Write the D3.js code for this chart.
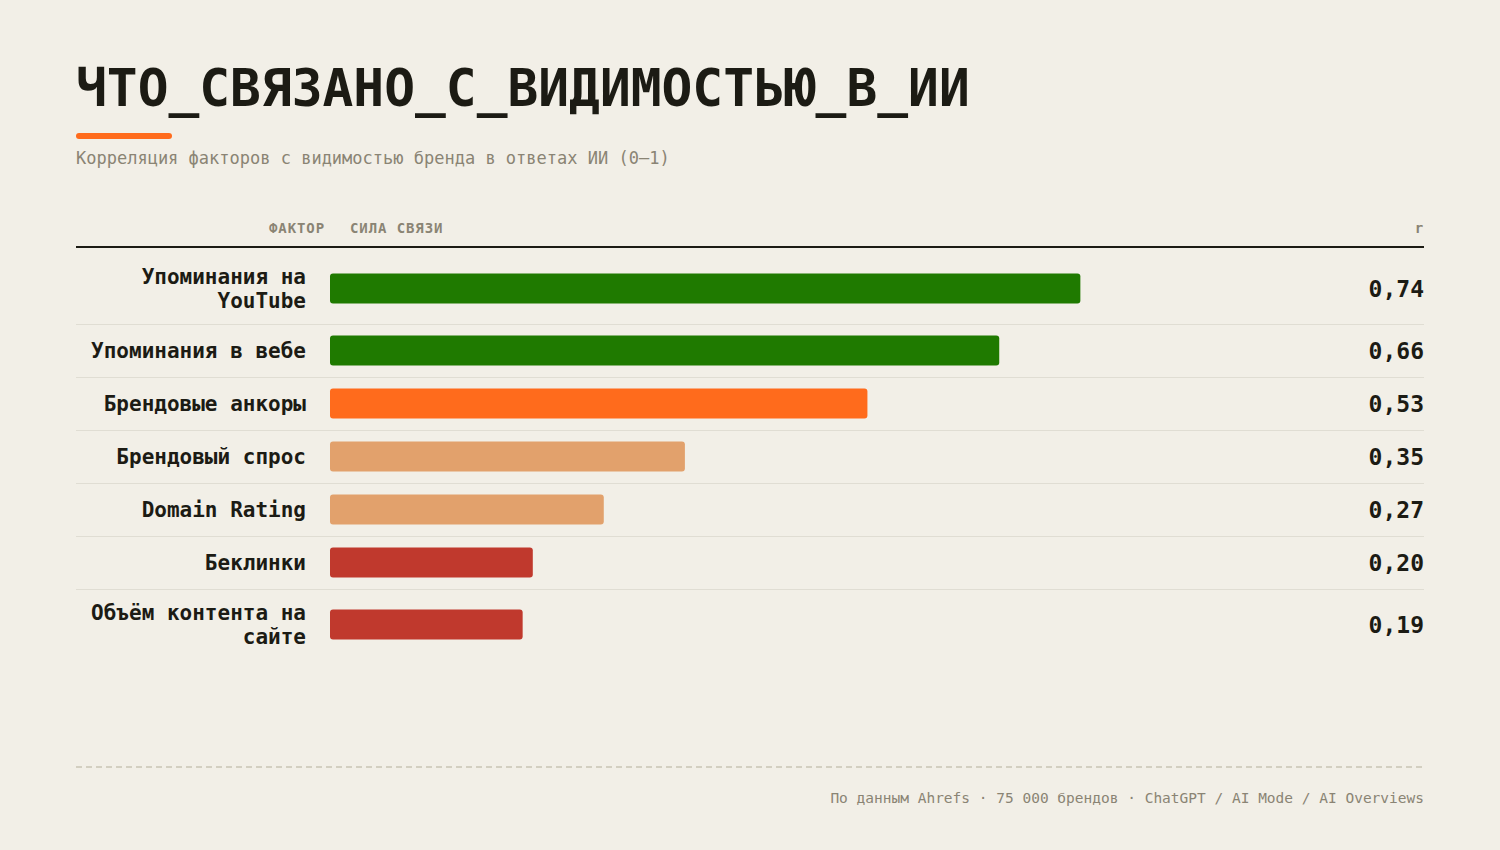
<!DOCTYPE html>
<html>
<head>
<meta charset="utf-8">
<script src="https://cdn.jsdelivr.net/npm/d3@7"></script>
<style>
    body { margin: 0; background: #f2efe7; }
    svg { display: block; }
    text { font-family: "DejaVu Sans Mono", monospace; }
</style>
</head>
<body>
<div id="chart"></div>
<script>
// data
const factors = ["Упоминания на YouTube", "Упоминания в вебе", "Брендовые анкоры", "Брендовый спрос",
    "Domain Rating", "Беклинки", "Объём контента на сайте"];
const values = [0.74, 0.66, 0.53, 0.35, 0.27, 0.20, 0.19];
const tiers = ["strong", "strong", "medium", "weak", "weak", "low", "low"];
const tierColors = {strong: "#1f7a00", medium: "#ff6b1c", weak: "#e2a16c", low: "#c0392d"};

const W = 1500, H = 850;
const left = 76, right = 1424;
const labelRight = 306, barStart = 330, barEnd = 1344;

let svg = d3.select("#chart").append("svg")
    .attr("width", W)
    .attr("height", H);

svg.append("rect").attr("width", W).attr("height", H).attr("fill", "#f2efe7");

// title
svg.append("text")
    .attr("x", left).attr("y", 106)
    .text("ЧТО_СВЯЗАНО_С_ВИДИМОСТЬЮ_В_ИИ")
    .style("font-size", "51.2px").style("font-weight", "bold")
    .attr("fill", "#1c1b14");

svg.append("rect")
    .attr("x", left).attr("y", 133).attr("width", 96).attr("height", 6)
    .attr("rx", 3).attr("fill", "#ff6b1c");

svg.append("text")
    .attr("x", left).attr("y", 164)
    .text("Корреляция факторов с видимостью бренда в ответах ИИ (0–1)")
    .style("font-size", "17px")
    .attr("fill", "#8a8474");

// header
let header = svg.append("g").attr("fill", "#8a8474")
    .style("font-size", "14px").style("font-weight", "bold").style("letter-spacing", "0.9px");
header.append("text").attr("x", 325).attr("y", 233).attr("text-anchor", "end").text("ФАКТОР");
header.append("text").attr("x", 350).attr("y", 233).text("СИЛА СВЯЗИ");
header.append("text").attr("x", right).attr("y", 233).attr("text-anchor", "end").text("r");

svg.append("line")
    .attr("x1", left).attr("x2", right).attr("y1", 247).attr("y2", 247)
    .attr("stroke", "#1c1b14").attr("stroke-width", 2);

// scales
let x = d3.scaleLinear().domain([0, 1]).range([barStart, barEnd]);

// wrap labels to the column width
const charW = 21 * 0.602;
const colW = labelRight - left;
function wrap(str) {
    let words = str.split(" "), lines = [], cur = "";
    words.forEach(w => {
        let test = cur ? cur + " " + w : w;
        if (test.length * charW > colW && cur) {
            lines.push(cur);
            cur = w;
        } else cur = test;
    });
    lines.push(cur);
    return lines;
}

const lineH = 24, barH = 30, pad = 11.5;
let rows = [];
let yPos = 253;
factors.forEach((f, i) => {
    let lines = wrap(f);
    let h = Math.max(barH, lines.length * lineH) + pad * 2;
    rows.push({factor: f, value: values[i], tier: tiers[i], lines: lines, top: yPos, h: h});
    yPos += h;
});

let row = svg.selectAll(".row")
    .data(rows)
    .enter().append("g")
    .attr("class", "row")
    .attr("transform", d => `translate(0, ${d.top})`);

// separators
row.filter((d, i) => i < rows.length - 1)
    .append("line")
    .attr("x1", left).attr("x2", right)
    .attr("y1", d => d.h + 0.5).attr("y2", d => d.h + 0.5)
    .attr("stroke", "#e0ddd3").attr("stroke-width", 1);

row.append("rect")
    .attr("x", x(0))
    .attr("y", d => d.h / 2 - barH / 2)
    .attr("width", d => x(d.value) - x(0))
    .attr("height", barH)
    .attr("rx", 3)
    .attr("fill", d => tierColors[d.tier]);

row.append("text")
    .attr("text-anchor", "end")
    .attr("fill", "#1c1b14")
    .style("font-size", "21px").style("font-weight", "bold")
    .each(function(d) {
        let t = d3.select(this);
        let n = d.lines.length;
        d.lines.forEach((l, k) => {
            t.append("tspan")
                .attr("x", labelRight)
                .attr("y", d.h / 2 + (k - (n - 1) / 2) * lineH)
                .attr("dy", "0.36em")
                .text(l);
        });
    });

const fmt = v => d3.format(".2f")(v).replace(".", ",");
row.append("text")
    .attr("x", right)
    .attr("y", d => d.h / 2)
    .attr("dy", "0.36em")
    .attr("text-anchor", "end")
    .attr("fill", "#1c1b14")
    .style("font-size", "23px").style("font-weight", "bold")
    .text(d => fmt(d.value));

// footer
svg.append("line")
    .attr("x1", left).attr("x2", right).attr("y1", 767).attr("y2", 767)
    .attr("stroke", "#c9c5b5").attr("stroke-width", 1.5)
    .attr("stroke-dasharray", "6,4");

svg.append("text")
    .attr("x", right).attr("y", 803)
    .attr("text-anchor", "end")
    .attr("fill", "#8a8474")
    .style("font-size", "14.5px")
    .text("По данным Ahrefs · 75 000 брендов · ChatGPT / AI Mode / AI Overviews");
</script>
</body>
</html>
